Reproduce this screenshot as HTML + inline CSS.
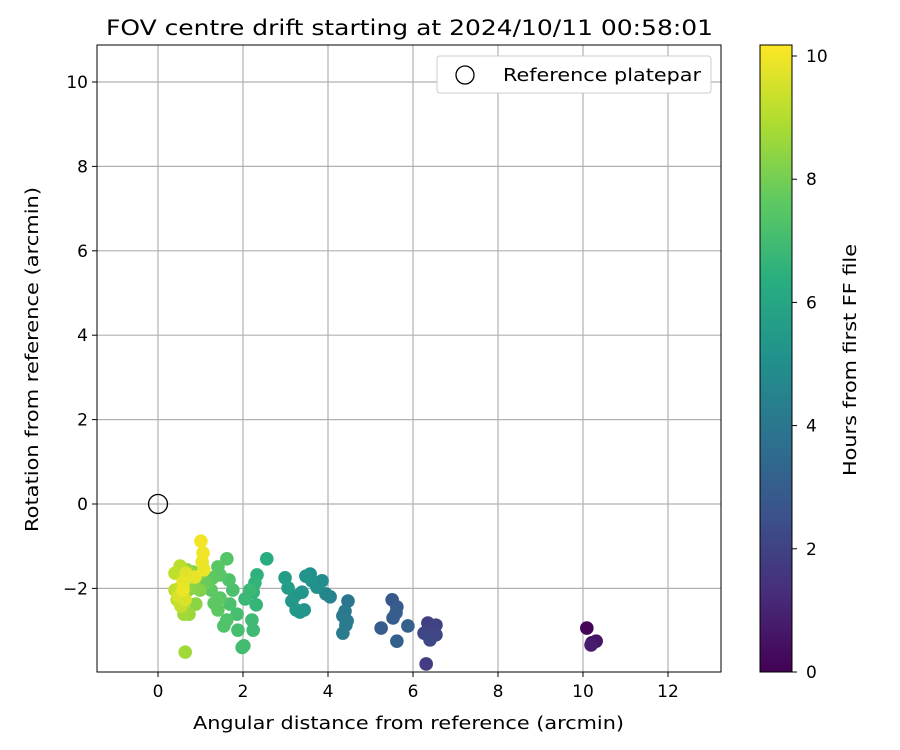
<!DOCTYPE html>
<html><head><meta charset="utf-8"><style>body{margin:0;background:#fff}svg{display:block}text{font-family:"DejaVu Sans","Liberation Sans",sans-serif;fill:#000}</style></head>
<body>
<svg id="chart" width="900" height="750">
<defs><linearGradient id="vir" x1="0" y1="1" x2="0" y2="0">
<stop offset="0" stop-color="#440154"/><stop offset="0.125" stop-color="#472d7b"/><stop offset="0.25" stop-color="#3b528b"/><stop offset="0.375" stop-color="#2c728e"/><stop offset="0.5" stop-color="#21918c"/><stop offset="0.625" stop-color="#28ae80"/><stop offset="0.75" stop-color="#5ec962"/><stop offset="0.875" stop-color="#addc30"/><stop offset="1" stop-color="#fde725"/></linearGradient></defs>
<g id="grid"></g>
<g id="points"></g>
<rect x="97" y="45" width="624" height="627" fill="none" stroke="#000" stroke-width="1"/>
<g id="axes"></g>
<text x="106" y="35" font-size="21" textLength="607" lengthAdjust="spacingAndGlyphs">FOV centre drift starting at 2024/10/11 00:58:01</text>
<text x="193" y="729" font-size="18" textLength="431" lengthAdjust="spacingAndGlyphs">Angular distance from reference (arcmin)</text>
<text transform="translate(38,532) rotate(-90)" font-size="18" textLength="345" lengthAdjust="spacingAndGlyphs">Rotation from reference (arcmin)</text>
<g>
<rect x="437" y="56" width="274" height="37" rx="3" fill="#fff" stroke="#ccc"/>
<circle cx="465" cy="75" r="9" fill="none" stroke="#000" stroke-width="1.3"/>
<text x="503" y="81" font-size="18" textLength="198" lengthAdjust="spacingAndGlyphs">Reference platepar</text>
</g>
<rect x="760" y="45" width="32" height="627" fill="url(#vir)" stroke="#000" stroke-width="1"/>
<g id="cbar"></g>
<text transform="translate(856,476) rotate(-90)" font-size="18" textLength="232" lengthAdjust="spacingAndGlyphs">Hours from first FF file</text>
</svg>
<script>
const xTicks=[0,2,4,6,8,10,12];
const yTicks=[-2,0,2,4,6,8,10];
const cTicks=[0,2,4,6,8,10];
const xs=[10.09,10.21,10.31,10.19, 6.31,6.35,6.54,6.26,6.54,6.40,6.35, 5.51,5.62,5.60,5.25,5.88,5.62,5.53, 4.47,4.40,4.35,4.42,4.35,4.45,4.05,3.95, 3.58,3.86,3.74,3.48,3.62,3.39,3.22,3.15,3.25,3.34,3.44,2.99,3.06, 2.56,2.33,2.28,2.24,2.31,2.16,2.05,2.21,2.24,1.98,2.02,1.88,1.86,1.69, 1.62,1.67,1.76,1.41,1.46,1.29,1.25,1.46,1.32,1.41,1.55,1.62,1.39,1.13,0.99, 1.04,0.99,0.89,0.71,0.68,0.82,0.89,0.59,0.59,0.61,0.73,0.64,0.52, 0.52,0.52,0.68,0.40,0.40,0.45,0.54,0.59, 1.01,1.06,1.04,1.08,0.87,0.66,0.59,0.59,0.49,0.64];
const ys=[-2.94,-3.29,-3.25,-3.34, -3.79,-2.82,-2.87,-3.06,-3.10,-3.22,-2.99, -2.27,-2.44,-2.58,-2.94,-2.89,-3.25,-2.70, -2.30,-2.54,-2.65,-2.87,-3.06,-2.77,-2.20,-2.13, -1.66,-1.82,-1.97,-1.71,-1.82,-2.09,-2.18,-2.30,-2.51,-2.56,-2.51,-1.75,-1.99, -1.30,-1.68,-1.87,-2.09,-2.39,-2.04,-2.25,-2.75,-2.99,-3.40,-3.36,-2.99,-2.61,-2.37, -1.30,-1.80,-2.04,-1.49,-1.68,-1.75,-2.04,-2.23,-2.35,-2.51,-2.89,-2.75,-2.27,-1.87,-1.68, -1.61,-2.04,-1.99,-2.04,-1.56,-1.61,-2.37,-2.18,-2.37,-2.61,-2.61,-3.51,-2.27, -1.99,-1.47,-1.73,-2.04,-1.64,-2.27,-2.42,-1.94, -0.88,-1.16,-1.37,-1.56,-1.73,-1.64,-1.85,-2.04,-2.18,-2.27];
const hs=[0.1,0.4,0.6,0.8, 1.8,1.9,2.0,2.1,2.1,2.2,2.0, 2.8,2.9,3.0,3.0,3.1,3.1,3.0, 4.0,4.1,4.1,4.2,4.2,4.1,4.5,4.6, 5.1,4.9,5.0,5.2,5.1,5.3,5.3,5.4,5.4,5.3,5.2,5.6,5.6, 6.3,6.5,6.6,6.6,6.7,6.8,6.8,6.9,6.9,7.0,7.0,7.1,7.1,7.2, 7.4,7.3,7.2,7.5,7.5,7.6,7.6,7.5,7.6,7.6,7.3,7.3,7.6,7.8,7.9, 8.2,8.2,8.3,8.4,8.5,8.3,8.4,8.6,8.6,8.7,8.6,8.7,8.8, 9.0,9.1,9.0,9.2,9.2,9.2,9.3,9.3, 10.0,10.0,9.9,9.9,9.8,9.7,9.8,9.9,9.6,9.6];
const X0=158,XS=42.5,Y0=504,YS=42.2,C0=672,CS=61.6;
const sx=v=>X0+v*XS, sy=v=>Y0-v*YS, sc=v=>C0-v*CS;
const NS="http://www.w3.org/2000/svg";
function mk(t,a,p){const e=document.createElementNS(NS,t);for(const k in a)e.setAttribute(k,a[k]);p.appendChild(e);return e;}
const stops=[[68,1,84],[71,45,123],[59,82,139],[44,114,142],[33,145,140],[40,174,128],[94,201,98],[173,220,48],[253,231,37]];
function vir(h){let t=Math.max(0,Math.min(1,h/10.18))*8;let i=Math.min(7,Math.floor(t)),f=t-i;const a=stops[i],b=stops[i+1];return `rgb(${a.map((c,j)=>Math.round(c+(b[j]-c)*f)).join(',')})`;}
const grid=document.getElementById('grid'),axes=document.getElementById('axes');
xTicks.forEach(v=>{const l=mk('line',{x1:sx(v),x2:sx(v),y1:45,y2:672,stroke:'#b0b0b0','stroke-width':1.2},grid);
 const t=mk('line',{x1:sx(v),x2:sx(v),y1:672,y2:677,stroke:'#000'},axes);
 const tx=mk('text',{x:sx(v),y:697,'font-size':17,'text-anchor':'middle'},axes);tx.textContent=v;});
yTicks.forEach(v=>{const l=mk('line',{x1:97,x2:721,y1:sy(v),y2:sy(v),stroke:'#b0b0b0','stroke-width':1.2},grid);
 const t=mk('line',{x1:92,x2:97,y1:sy(v),y2:sy(v),stroke:'#000'},axes);
 const tx=mk('text',{x:88,y:sy(v)+6,'font-size':17,'text-anchor':'end'},axes);tx.textContent=v<0?'\u2212'+(-v):v;});
const cb=document.getElementById('cbar');
cTicks.forEach(v=>{const t=mk('line',{x1:792,x2:797,y1:sc(v),y2:sc(v),stroke:'#000'},cb);
 const tx=mk('text',{x:806,y:sc(v)+6,'font-size':17},cb);tx.textContent=v;});
const pts=document.getElementById('points');
const idx=hs.map((h,i)=>i).sort((a,b)=>hs[a]-hs[b]);
idx.forEach(i=>{const c=mk('circle',{cx:sx(xs[i]),cy:sy(ys[i]),r:6.8,fill:vir(hs[i])},pts);});
const r=mk('circle',{cx:sx(0),cy:sy(0),r:9.5,fill:'none',stroke:'#000','stroke-width':1.3},pts);


</script>
</body></html>
